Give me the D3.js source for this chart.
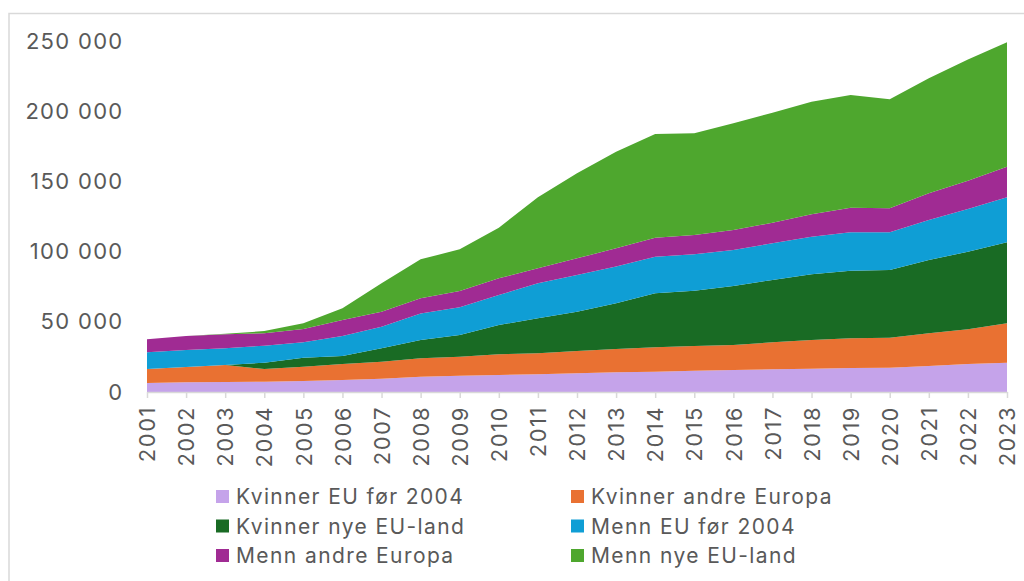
<!DOCTYPE html>
<html>
  <head>
    <meta charset='utf-8'>
    <script src='https://d3js.org/d3.v7.min.js'></script>
    <style>
      body { margin: 0; background: #fff; }
      svg text { font-family: Inter, 'Noto Sans', sans-serif; fill: #595959; }
    </style>
  </head>
<body>
<script type='text/javascript'>
  'use strict';

  // years on the x axis
  var years = d3.range(2001, 2024);

  // series values (thousands), stacked bottom to top
  var kvinnerEuFor2004 = [6.4, 6.9, 7.1, 7.3, 7.8, 8.5, 9.5, 10.9, 11.6, 12.1, 12.6, 13.3, 14.0,
                          14.5, 15.2, 15.7, 16.2, 16.6, 17.1, 17.3, 18.5, 19.9, 20.9];
  var kvinnerAndreEuropa = [10.0, 10.9, 12.1, 9.1, 10.2, 11.4, 12.1, 13.1, 13.5, 14.8, 15.0, 15.9, 16.6,
                            17.3, 17.6, 17.8, 19.2, 20.4, 21.1, 21.4, 23.3, 24.8, 28.0];
  var kvinnerNyeEuLand = [0, 0, 0, 4.5, 6.4, 5.7, 9.5, 13.0, 15.5, 20.8, 24.9, 28.0, 32.6,
                          38.5, 39.4, 42.0, 44.4, 46.8, 48.2, 48.2, 52.2, 55.2, 57.7];
  var mennEuFor2004 = [11.9, 12.1, 11.9, 12.1, 11.0, 14.3, 15.4, 19.0, 19.7, 21.4, 24.9, 26.1, 26.1,
                       26.1, 25.9, 25.6, 26.1, 26.8, 27.3, 26.8, 28.5, 30.4, 32.1];
  var mennAndreEuropa = [9.2, 10.0, 10.0, 8.8, 9.5, 11.4, 10.7, 10.7, 11.6, 11.9, 10.7, 11.9, 13.0,
                         13.5, 13.7, 14.3, 14.7, 16.0, 17.6, 17.1, 19.0, 20.2, 21.8];
  var mennNyeEuLand = [0, 0, 0.3, 1.6, 4.0, 8.3, 20.2, 27.8, 29.7, 36.0, 50.6, 60.6, 68.9,
                       73.9, 72.5, 76.0, 78.3, 80.2, 80.2, 77.7, 81.9, 86.4, 88.6];

  var seriesNames = ['Kvinner EU før 2004', 'Kvinner andre Europa', 'Kvinner nye EU-land',
                     'Menn EU før 2004', 'Menn andre Europa', 'Menn nye EU-land'];
  var seriesValues = [kvinnerEuFor2004, kvinnerAndreEuropa, kvinnerNyeEuLand,
                      mennEuFor2004, mennAndreEuropa, mennNyeEuLand];
  var colors = ['#c5a3ea', '#e97132', '#196b24', '#0f9ed5', '#a02b93', '#4ea72e'];

  var yTicks = [0, 50000, 100000, 150000, 200000, 250000];

  var WIDTH = 1024, HEIGHT = 581;

  // build rows for d3.stack
  var rows = years.map(function (y, i) {
    var r = { year: y };
    seriesNames.forEach(function (n, k) { r[n] = seriesValues[k][i] * 1000; });
    return r;
  });

  var svg = d3.select('body').append('svg')
    .attr('width', WIDTH)
    .attr('height', HEIGHT);

  // outer frame (top and left edge)
  svg.append('path')
    .attr('d', 'M9,' + HEIGHT + ' V13.5 H' + WIDTH)
    .attr('fill', 'none')
    .attr('stroke', '#d9d9d9')
    .attr('stroke-width', 1.5);

  var x = d3.scalePoint().domain(years).range([147, 1007]);
  var y = d3.scaleLinear().domain([0, 250000]).range([392, 41]);

  var layers = d3.stack().keys(seriesNames)(rows);

  var area = d3.area()
    .x(function (d) { return x(d.data.year); })
    .y0(function (d) { return y(d[0]); })
    .y1(function (d) { return y(d[1]); });

  svg.append('g').selectAll('path')
    .data(layers)
    .enter()
    .append('path')
    .attr('d', area)
    .attr('fill', function (d, i) { return colors[i]; });

  // y axis labels
  var fmt = d3.formatLocale({ decimal: ',', thousands: '\u00a0', grouping: [3], currency: ['', ''] }).format(',');
  var yAxis = svg.append('g')
    .attr('transform', 'translate(123.5,0)')
    .call(d3.axisLeft(y).tickValues(yTicks).tickSize(0).tickPadding(0).tickFormat(fmt));
  yAxis.select('.domain').remove();
  yAxis.selectAll('text')
    .style('font-size', '22px')
    .style('letter-spacing', '1.3px')
    .attr('fill', '#595959');

  // x axis
  var xAxis = svg.append('g')
    .attr('transform', 'translate(0,392)')
    .call(d3.axisBottom(x).tickSize(6).tickPadding(8).tickSizeOuter(0));
  xAxis.select('.domain').attr('stroke', '#d9d9d9').attr('stroke-width', 1.5);
  xAxis.selectAll('.tick line').attr('stroke', '#d9d9d9').attr('stroke-width', 1.5);
  xAxis.selectAll('text')
    .style('font-size', '22px')
    .style('letter-spacing', '1.5px')
    .attr('fill', '#595959')
    .attr('transform', 'rotate(-90)')
    .attr('text-anchor', 'end')
    .attr('x', -14)
    .attr('y', 0)
    .attr('dy', '0.35em');

  // legend
  var legend = svg.append('g').selectAll('g')
    .data(seriesNames)
    .enter()
    .append('g')
    .attr('transform', function (d, i) {
      return 'translate(' + (i % 2 === 0 ? 216 : 571) + ',' + (497 + Math.floor(i / 2) * 29.5) + ')';
    });
  legend.append('rect')
    .attr('x', 0).attr('y', -7)
    .attr('width', 13).attr('height', 13)
    .attr('fill', function (d, i) { return colors[i]; });
  legend.append('text')
    .attr('x', 20)
    .attr('dy', '0.35em')
    .style('font-size', '21px')
    .style('letter-spacing', '1.4px')
    .text(function (d) { return d; });
</script>
</body>
</html>
